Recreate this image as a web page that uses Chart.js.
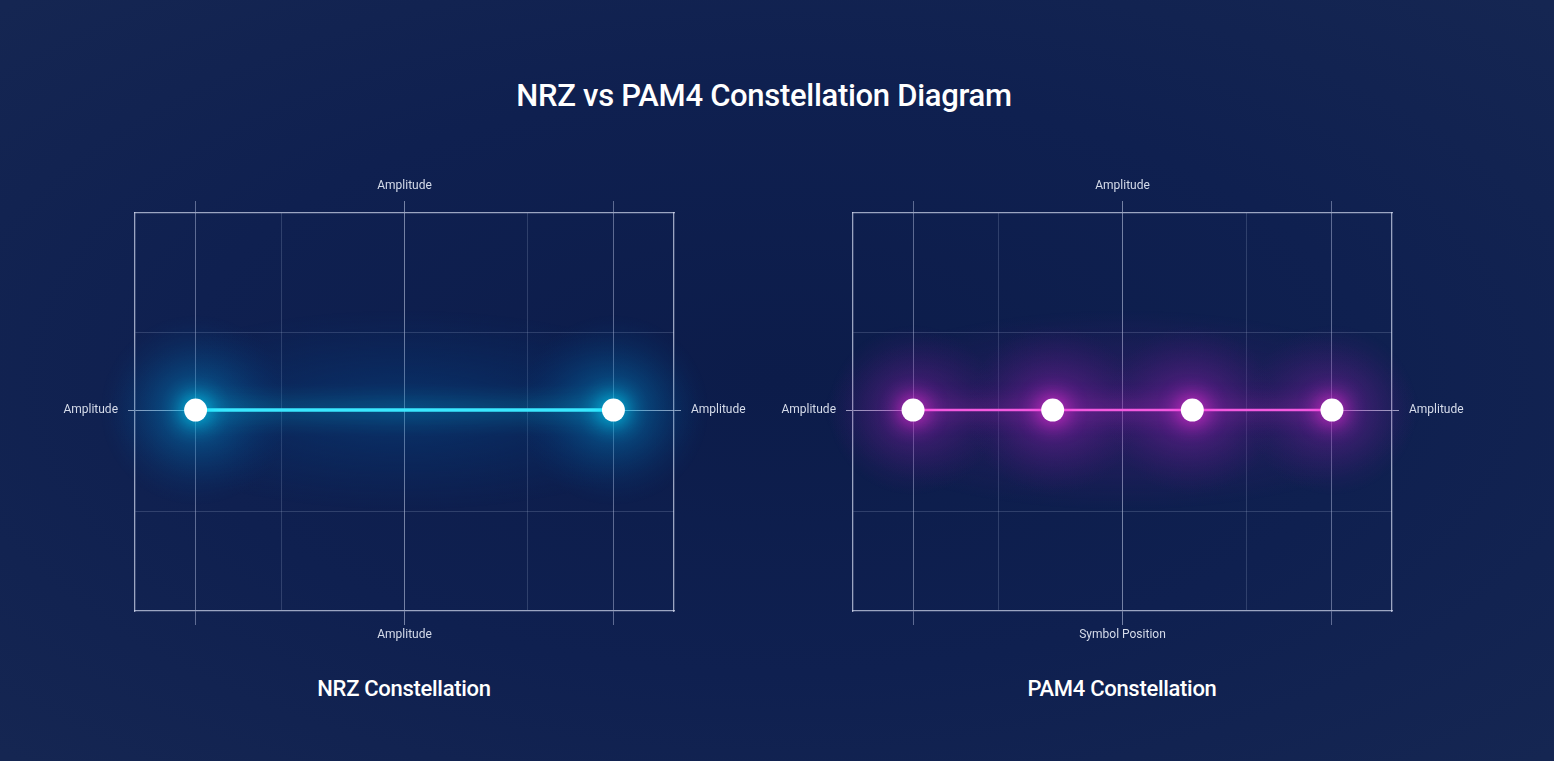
<!DOCTYPE html>
<html>
<head>
<meta charset="utf-8">
<script src="https://cdn.jsdelivr.net/npm/chart.js@4/dist/chart.umd.min.js"></script>
<style>
  html, body { margin: 0; padding: 0; }
  body {
    width: 1554px; height: 761px; overflow: hidden; position: relative;
    background: radial-gradient(ellipse 70% 70% at 50% 50%, #0c1c4a 0%, #0f2050 55%, #152652 100%);
    font-family: Roboto, "Open Sans", sans-serif;
  }
  .title { position: absolute; left: 0; width: 1528px; top: 77px; text-align: center;
    color: #ffffff; font-size: 31px; font-weight: 500; letter-spacing: -0.3px; }
  .sub { position: absolute; top: 676px; width: 400px; text-align: center;
    color: #ffffff; font-size: 22px; font-weight: 500; letter-spacing: -0.3px; }
  .box { position: absolute; top: 150px; width: 730px; height: 520px; }
</style>
</head>
<body>
<div class="title">NRZ vs PAM4 Constellation Diagram</div>
<div class="box" style="left:40px"><canvas id="js--nrz"></canvas></div>
<div class="box" style="left:758px"><canvas id="js--pam4"></canvas></div>
<div class="sub" style="left:204px">NRZ Constellation</div>
<div class="sub" style="left:922px">PAM4 Constellation</div>

<script>
// symbol levels (x = amplitude, y = quadrature)
const nrzLevels = [-1, 1];
const nrzQuad = [0, 0];
const pam4Levels = [-3, -1, 1, 3];
const pam4Quad = [0, 0, 0, 0];

// grid positions
const nrzGridX = [-1, -0.59, 0, 0.59, 1];
const pam4GridX = [-3, -1.77, 0, 1.77, 3];
const gridY = [-0.51, 0, 0.39];

function toPoints(xs, ys) {
    return xs.map(function(x, i){ return {x: x, y: ys[i]}; });
}

function softEllipse(ctx, cx, cy, rx, ry, inner, outer) {
    ctx.save();
    ctx.translate(cx, cy);
    ctx.scale(rx / ry, 1);
    const g = ctx.createRadialGradient(0, 0, 0, 0, 0, ry);
    g.addColorStop(0, inner);
    g.addColorStop(1, outer);
    ctx.fillStyle = g;
    ctx.fillRect(-ry, -ry, ry * 2, ry * 2);
    ctx.restore();
}

const glowPlugin = {
    id: "glow",
    beforeDatasetsDraw(chart, args, opts) {
        const ctx = chart.ctx;
        const pts = chart.getDatasetMeta(0).data;
        const first = pts[0], last = pts[pts.length - 1];
        const cx = (first.x + last.x) / 2;
        softEllipse(ctx, cx, first.y, (last.x - first.x) / 2 + 90, 100, opts.haze, opts.haze0);
        pts.forEach(function(p){
            softEllipse(ctx, p.x, p.y, opts.radius, opts.radius, opts.halo, opts.haze0);
        });
    },
    beforeDatasetDraw(chart, args, opts) {
        chart.ctx.save();
        chart.ctx.shadowColor = opts.shadow;
        chart.ctx.shadowBlur = 22;
    },
    afterDatasetDraw(chart) {
        chart.ctx.restore();
    }
};

const labelPlugin = {
    id: "axisLabels",
    afterDraw(chart, args, opts) {
        const ctx = chart.ctx, a = chart.chartArea;
        const midX = chart.scales.x.getPixelForValue(0);
        const midY = chart.scales.y.getPixelForValue(0);
        ctx.save();
        ctx.fillStyle = "#d6dcea";
        ctx.font = "12px Roboto, sans-serif";
        ctx.textBaseline = "middle";
        ctx.textAlign = "center";
        ctx.fillText(opts.top, midX, a.top - 27);
        ctx.fillText(opts.bottom, midX, a.bottom + 24);
        ctx.textAlign = "right";
        ctx.fillText(opts.left, a.left - 17, midY);
        ctx.textAlign = "left";
        ctx.fillText(opts.right, a.right + 17, midY);
        ctx.restore();
    }
};

function makeConfig(levels, quad, gridX, range, lineColor, lineWidth, glow, labels) {
    const pointLevels = [levels[0], levels[levels.length - 1]];
    const xGridColor = function(c){
        if (c.tick.value === 0) return "rgba(200,210,235,0.55)";
        if (pointLevels.indexOf(c.tick.value) >= 0) return "rgba(190,200,230,0.45)";
        return "rgba(170,180,215,0.22)";
    };
    const xTickColor = function(c){
        if (c.tick.value === 0 || pointLevels.indexOf(c.tick.value) >= 0) return xGridColor(c);
        return "rgba(0,0,0,0)";
    };
    const yGridColor = function(c){
        return c.tick.value === 0 ? "rgba(220,226,242,0.75)" : "rgba(170,180,215,0.22)";
    };
    const yTickColor = function(c){
        return c.tick.value === 0 ? "rgba(220,226,242,0.75)" : "rgba(0,0,0,0)";
    };
    const setX = function(scale){ scale.ticks = gridX.map(function(v){ return {value: v}; }); };
    const setY = function(scale){ scale.ticks = gridY.map(function(v){ return {value: v}; }); };
    const border = {color: "rgba(215,222,242,0.7)", width: 1.3};

    return {
        type: "scatter",
        data: {
            datasets: [{
                data: toPoints(levels, quad),
                showLine: true,
                borderColor: lineColor,
                borderWidth: lineWidth,
                pointRadius: 11.5,
                pointHoverRadius: 11.5,
                pointBackgroundColor: "#ffffff",
                pointBorderColor: "#ffffff",
                pointBorderWidth: 0
            }]
        },
        options: {
            responsive: true,
            maintainAspectRatio: false,
            animation: false,
            layout: {padding: {left: 88, right: 89, top: 51, bottom: 45}},
            plugins: {
                legend: {display: false},
                tooltip: {enabled: false},
                glow: glow,
                axisLabels: labels
            },
            scales: {
                x: {
                    type: "linear", position: "bottom", min: -range, max: range,
                    afterBuildTicks: setX,
                    ticks: {display: false},
                    grid: {color: xGridColor, tickColor: xTickColor, tickLength: 14, lineWidth: 1},
                    border: border
                },
                x2: {
                    type: "linear", position: "top", min: -range, max: range,
                    afterBuildTicks: setX,
                    ticks: {display: false},
                    grid: {drawOnChartArea: false, tickColor: xTickColor, tickLength: 12},
                    border: border
                },
                y: {
                    type: "linear", position: "left", min: -1.01, max: 0.99,
                    afterBuildTicks: setY,
                    ticks: {display: false},
                    grid: {color: yGridColor, tickColor: yTickColor, tickLength: 7},
                    border: border
                },
                y2: {
                    type: "linear", position: "right", min: -1.01, max: 0.99,
                    afterBuildTicks: setY,
                    ticks: {display: false},
                    grid: {drawOnChartArea: false, tickColor: yTickColor, tickLength: 7},
                    border: border
                }
            }
        },
        plugins: [glowPlugin, labelPlugin]
    };
}

new Chart(document.getElementById("js--nrz"), makeConfig(
    nrzLevels, nrzQuad, nrzGridX, 1.29, "#3ae8ff", 3.5,
    {haze: "rgba(0,90,160,0.38)", haze0: "rgba(0,60,130,0)", halo: "rgba(0,180,240,0.5)",
     radius: 95, shadow: "#00e4ff"},
    {top: "Amplitude", bottom: "Amplitude", left: "Amplitude", right: "Amplitude"}
));

new Chart(document.getElementById("js--pam4"), makeConfig(
    pam4Levels, pam4Quad, pam4GridX, 3.86, "#f45ae0", 2.5,
    {haze: "rgba(110,30,150,0.38)", haze0: "rgba(90,20,130,0)", halo: "rgba(180,40,200,0.45)",
     radius: 85, shadow: "#ff30e0"},
    {top: "Amplitude", bottom: "Symbol Position", left: "Amplitude", right: "Amplitude"}
));
</script>
</body>
</html>
